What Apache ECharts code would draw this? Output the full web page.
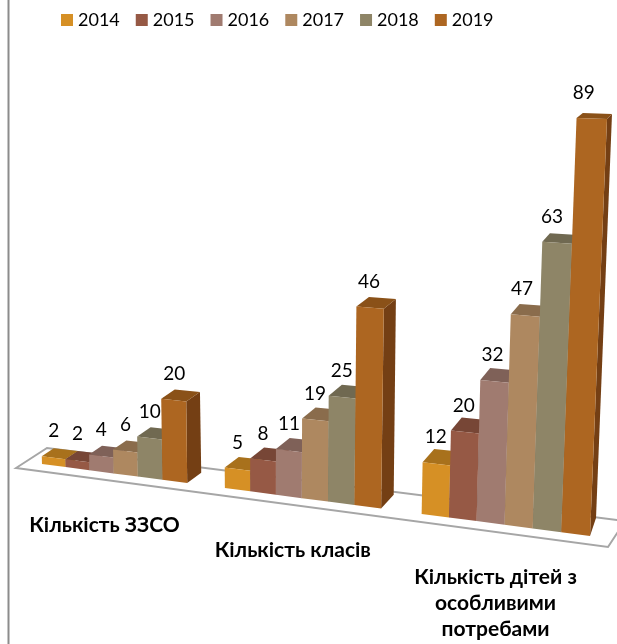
<!DOCTYPE html>
<html>
<head>
<meta charset="utf-8">
<style>
html, body { margin: 0; padding: 0; background: #fff; }
#main { width: 617px; height: 644px; }
</style>
<script src="https://cdn.jsdelivr.net/npm/echarts@6/dist/echarts.min.js"></script>
</head>
<body>
<div id="main"></div>
<script>
var categories = ['Кількість ЗЗСО', 'Кількість класів', 'Кількість дітей з\nособливими\nпотребами'];
var years = ['2014', '2015', '2016', '2017', '2018', '2019'];
var v2014 = [2, 5, 12];
var v2015 = [2, 8, 20];
var v2016 = [4, 11, 32];
var v2017 = [6, 19, 47];
var v2018 = [10, 25, 63];
var v2019 = [20, 46, 89];
var seriesValues = [v2014, v2015, v2016, v2017, v2018, v2019];
var colors = ['#D69025', '#965945', '#A07B70', '#AE8860', '#8E8567', '#AD6621'];
var sideColors = ['#8F6018', '#643B2E', '#6B524A', '#745B40', '#5F5945', '#743F14'];
var topColors = ['#A8711C', '#774636', '#7F6158', '#8A6C4C', '#706951', '#8A5118'];

var labelFont = 'Lato, "Open Sans", sans-serif';
var valueMax = 89;
var gapSlots = 1.5;

// the picture is a 3D column chart seen at an angle: front and back planes of the
// columns are each a projective map of the flat grid
var frontQuad = [[42, 464], [590, 536], [607, 119], [31, 102]];
var backQuad = [[54, 456], [596, 518], [612, 114], [41, 93]];
var floorLine = [[16, 468], [608, 547], [625, 521], [47, 448]];

function makeWarp(q) {
    var dx1 = q[1][0] - q[2][0], dx2 = q[3][0] - q[2][0], sx = q[0][0] - q[1][0] + q[2][0] - q[3][0];
    var dy1 = q[1][1] - q[2][1], dy2 = q[3][1] - q[2][1], sy = q[0][1] - q[1][1] + q[2][1] - q[3][1];
    var den = dx1 * dy2 - dx2 * dy1;
    var g = (sx * dy2 - dx2 * sy) / den;
    var h = (dx1 * sy - sx * dy1) / den;
    var a = q[1][0] - q[0][0] + g * q[1][0], b = q[3][0] - q[0][0] + h * q[3][0];
    var d = q[1][1] - q[0][1] + g * q[1][1], e = q[3][1] - q[0][1] + h * q[3][1];
    return function (s, t) {
        var w = g * s + h * t + 1;
        return [(a * s + b * t + q[0][0]) / w, (d * s + e * t + q[0][1]) / w];
    };
}
var warpFront = makeWarp(frontQuad);
var warpBack = makeWarp(backQuad);

// flat grid pixel -> unit square spanning first bar left edge .. last bar right edge
function toUnit(px, py, rect) {
    var total = categories.length * (years.length + gapSlots);
    var span = total - gapSlots;
    var s = ((px - rect.x) / rect.width * total - gapSlots / 2) / span;
    var t = (rect.y + rect.height - py) / rect.height;
    // slightly less foreshortening along the width than the plain map gives
    s = s + 0.04 * s * (1 - s);
    return [s, t];
}

function renderBar(seriesIdx) {
    return function (params, api) {
        var rect = params.coordSys;
        var cat = api.value(0);
        var val = api.value(1);
        var base = api.coord([cat, 0]);
        var top = api.coord([cat, val]);
        var slot = api.size([1, 0])[0] / (years.length + gapSlots);
        var left = base[0] - slot * years.length / 2 + slot * seriesIdx;
        var l0 = toUnit(left, base[1], rect), r0 = toUnit(left + slot, base[1], rect);
        var l1 = toUnit(left, top[1], rect), r1 = toUnit(left + slot, top[1], rect);

        var fl0 = warpFront(l0[0], l0[1]), fr0 = warpFront(r0[0], r0[1]);
        var fl1 = warpFront(l1[0], l1[1]), fr1 = warpFront(r1[0], r1[1]);
        var br0 = warpBack(r0[0], r0[1]), bl1 = warpBack(l1[0], l1[1]), br1 = warpBack(r1[0], r1[1]);

        var labelX = (fl0[0] + fr0[0] + fl1[0] + fr1[0]) / 4;
        return {
            type: 'group',
            children: [
                { type: 'polygon', shape: { points: [fr0, br0, br1, fr1] }, style: { fill: sideColors[seriesIdx] } },
                { type: 'polygon', shape: { points: [fl1, fr1, br1, bl1] }, style: { fill: topColors[seriesIdx] } },
                { type: 'polygon', shape: { points: [fl0, fr0, fr1, fl1] }, style: { fill: colors[seriesIdx] } },
                {
                    type: 'text',
                    x: labelX,
                    y: Math.min(fl1[1], fr1[1]) - 25,
                    style: {
                        text: String(val),
                        fill: '#000',
                        font: '19px ' + labelFont,
                        align: 'center',
                        verticalAlign: 'middle'
                    }
                }
            ]
        };
    };
}

function renderCategory(params, api) {
    var rect = params.coordSys;
    var cat = api.value(0);
    var base = api.coord([cat, 0]);
    var u = toUnit(base[0], base[1], rect);
    var p = warpFront(u[0], u[1]);
    return {
        type: 'text',
        x: p[0] - 9,
        y: p[1] + 39,
        style: {
            text: categories[cat],
            fill: '#000',
            font: 'bold 21px ' + labelFont,
            lineHeight: 26,
            align: 'center',
            verticalAlign: 'top'
        }
    };
}

var chart = echarts.init(document.getElementById('main'));
var series = years.map(function (y, i) {
    return {
        name: y,
        type: 'custom',
        coordinateSystem: 'cartesian2d',
        clip: false,
        itemStyle: { color: colors[i] },
        encode: { x: 0, y: 1 },
        data: seriesValues[i].map(function (v, c) { return [c, v]; }),
        renderItem: renderBar(i)
    };
});
series.push({
    type: 'custom',
    coordinateSystem: 'cartesian2d',
    clip: false,
    encode: { x: 0, y: 1 },
    data: categories.map(function (c, i) { return [i, 0]; }),
    renderItem: renderCategory
});

var option = {
    animation: false,
    backgroundColor: '#fff',
    grid: { left: 0, right: 0, top: 0, bottom: 0 },
    xAxis: { type: 'category', data: categories, show: false },
    yAxis: { type: 'value', min: 0, max: valueMax, show: false },
    legend: {
        data: years,
        left: 61,
        top: 11,
        padding: 0,
        icon: 'rect',
        itemWidth: 12,
        itemHeight: 12,
        itemGap: 16,
        textStyle: { fontFamily: labelFont, fontSize: 18, color: '#000' }
    },
    graphic: [
        { type: 'line', shape: { x1: 8.5, y1: 0, x2: 8.5, y2: 644 }, style: { stroke: '#8C8C8C', lineWidth: 2 } },
        { type: 'polygon', shape: { points: floorLine }, style: { fill: '#fff', stroke: '#A6A6A6', lineWidth: 2 } }
    ],
    series: series
};
chart.setOption(option);
window.addEventListener('resize', function () { chart.resize(); });
</script>
</body>
</html>
